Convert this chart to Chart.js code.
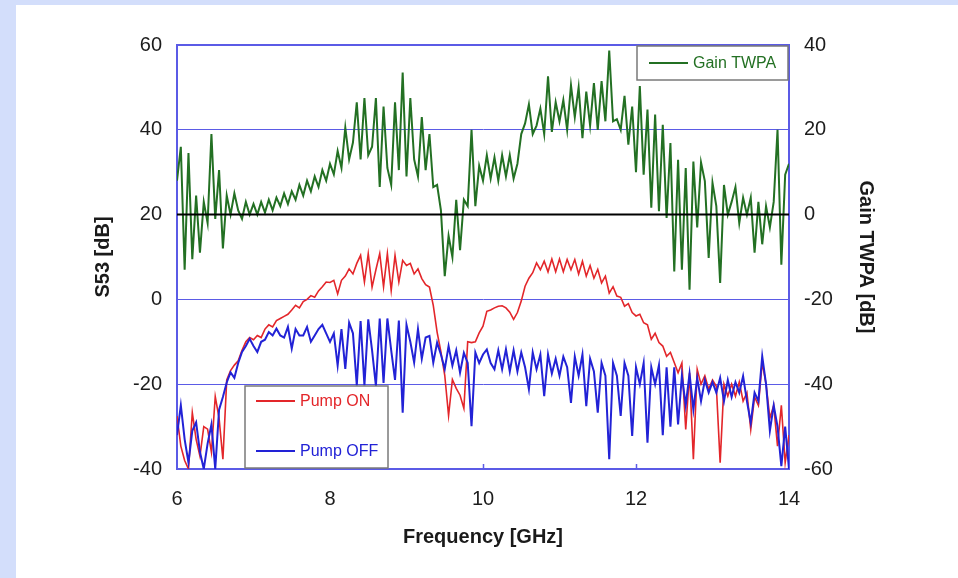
<!DOCTYPE html>
<html><head><meta charset="utf-8">
<script src="https://cdn.jsdelivr.net/npm/chart.js@4"></script>
<style>
html,body{margin:0;padding:0;width:958px;height:578px;overflow:hidden;background:#d3defb;}
#panel{position:absolute;left:16px;top:5px;right:0;bottom:0;background:#fff;}
#c{position:absolute;left:0;top:0;}
</style></head>
<body><div id="panel"></div><canvas id="c" width="958" height="578"></canvas>
<script>
const freqGHz = [
6.00,6.05,6.10,6.15,6.20,6.25,6.30,6.35,6.40,6.45,
6.50,6.55,6.60,6.65,6.70,6.75,6.80,6.85,6.90,6.95,
7.00,7.05,7.10,7.15,7.20,7.25,7.30,7.35,7.40,7.45,
7.50,7.55,7.60,7.65,7.70,7.75,7.80,7.85,7.90,7.95,
8.00,8.05,8.10,8.15,8.20,8.25,8.30,8.35,8.40,8.45,
8.50,8.55,8.60,8.65,8.70,8.75,8.80,8.85,8.90,8.95,
9.00,9.05,9.10,9.15,9.20,9.25,9.30,9.35,9.40,9.45,
9.50,9.55,9.60,9.65,9.70,9.75,9.80,9.85,9.90,9.95,
10.00,10.05,10.10,10.15,10.20,10.25,10.30,10.35,10.40,10.45,
10.50,10.55,10.60,10.65,10.70,10.75,10.80,10.85,10.90,10.95,
11.00,11.05,11.10,11.15,11.20,11.25,11.30,11.35,11.40,11.45,
11.50,11.55,11.60,11.65,11.70,11.75,11.80,11.85,11.90,11.95,
12.00,12.05,12.10,12.15,12.20,12.25,12.30,12.35,12.40,12.45,
12.50,12.55,12.60,12.65,12.70,12.75,12.80,12.85,12.90,12.95,
13.00,13.05,13.10,13.15,13.20,13.25,13.30,13.35,13.40,13.45,
13.50,13.55,13.60,13.65,13.70,13.75,13.80,13.85,13.90,13.95,
14.00];

// Gain TWPA [dB] (right axis)
const gainTWPA = [
8,16,-13,14.5,-10.5,4.5,-9,3,-2,19,
-1,10.5,-8,4.5,0,5,1,-1,3,0,
2.5,0,3,0.5,3.5,1,4,2,5,2.5,
5.5,3.5,7,4.5,8,5.5,9,6.5,10.5,8,
12,9.5,15,11,20.5,13,17,26.5,13,27.5,
14,16,27.5,6.5,25.5,11,7,26.5,10.5,33.5,
9,27.5,13,9,23,10.5,19,6.5,7,1,
-14.5,-5,-10,3.5,-8.4,3.5,2,20,2,11.5,
8,14,8.5,13.5,8,14,9,14,8.5,12,
19,21.5,26,19,21,25,19,32.6,19.5,26.5,
22,27,20,30.5,23,30,18,29,21,31,
20,31.5,22,38.7,22,22.5,20,28,16.5,25.5,
10,30.3,9.4,24.8,1.6,23.6,0.8,21.2,-0.8,16.9,
-13.4,12.9,-13,11,-17.7,12.5,-3,12.3,7.9,-10.2,
7.5,2,-16.1,7,0,3,6.5,-2,4,0,
4,-9,3,-7,2,-3,3,20,-11.8,9.4,
12];

// S53 Pump ON [dB] (left axis)
const pumpOn = [
-27.5,-34.6,-38,-40,-26.7,-33,-37,-30,-30.6,-36,
-22.9,-28,-37.7,-19,-16.8,-15.5,-14.5,-12,-10,-9,
-9.5,-8.5,-9,-7,-6,-6.5,-5,-4.5,-4,-3.5,
-2.5,-1.4,-2,-0.5,0,0.9,0.5,2,3,4.1,
4,4.5,1.3,4.5,5.5,7.2,6,8.5,10.4,4.1,
10.8,2.9,7,10.8,3,10.8,2.1,10.4,4.1,9.2,
8,8.5,6,7.2,4.9,3.5,2.9,-1.4,-7.7,-12.4,
-17.9,-27.4,-18.9,-21,-22.6,-25.7,-10,-10.2,-10,-7.9,
-6.3,-2.8,-2.5,-2,-1.6,-1.5,-2,-3,-4.7,-3.1,
-0.4,3.1,5,6.3,8.6,7,9,6.5,9.5,6.5,
9.5,6.5,9.4,7,9.4,6,9,5.5,8,5,
7.1,3.9,5.5,1.5,3,0.8,0.5,-1.6,-1,-3.1,
-3.9,-3.5,-5.5,-6,-9.4,-8,-10.2,-11,-13.4,-12.5,
-14.9,-17.3,-15,-30.7,-17.3,-37.7,-16.5,-20,-18,-21.2,
-19,-20.5,-38.5,-20,-22.8,-20,-22.8,-19.5,-24,-22,
-30.7,-23,-25,-14.9,-20,-28,-25,-34.6,-25,-38.5,
-32];

// S53 Pump OFF [dB] (left axis)
const pumpOff = [
-32,-25,-33,-38.5,-31,-29,-36,-40,-34,-29.5,
-40,-26,-23,-19.6,-17.2,-18.5,-15,-12.4,-11,-9.3,
-11,-12.4,-10,-9.5,-7.7,-8.5,-6.9,-8.5,-9,-6.5,
-11.6,-7,-8.5,-8.5,-6.5,-10,-8.5,-7,-6,-8,
-10,-8,-15.6,-7,-16.4,-5.5,-8,-20.3,-5.1,-20.3,
-4.7,-12,-20.4,-4.5,-19.7,-4.5,-12,-19,-5,-26.7,
-6,-10,-14.9,-7,-14,-9,-8.6,-14.9,-10.2,-13,
-16.4,-11,-15.6,-12,-17.3,-12.6,-15,-29.9,-12.5,-15,
-13,-11.8,-15,-16.5,-12,-16.5,-11.8,-17,-12,-17,
-12.5,-16,-21.2,-12.5,-16.5,-13,-22.8,-13,-17.5,-14,
-18,-13.5,-16,-24.4,-13.5,-18,-13,-25.2,-14,-17,
-26.7,-15,-18,-37.7,-15,-18,-27.5,-15,-18,-32.2,
-16,-20,-15,-33.8,-16,-20,-15.5,-32,-16,-30,
-16,-29.5,-18,-25,-17.5,-26,-18.5,-24,-19,-22,
-19.5,-22,-18.5,-24,-19,-23,-19.5,-22,-18.1,-24,
-29.1,-22,-24,-13.4,-20,-31,-25,-30,-39.3,-30,
-40];

const xTicks = [6, 8, 10, 12, 14];
const leftTicks = [-40, -20, 0, 20, 40, 60];
const rightTicks = [-60, -40, -20, 0, 20, 40];

const FONT = '"Liberation Sans", Arial, Helvetica, sans-serif';
const GRID_BLUE = '#5b5be6';
const TICK_COLOR = '#1c1c1c';
const toXY = arr => arr.map((v, i) => ({x: freqGHz[i], y: v}));

const zeroGainLine = {
  id: 'zeroGainLine',
  afterDatasetsDraw(chart) {
    const {ctx, chartArea} = chart;
    const y = chart.scales.yR.getPixelForValue(0);
    ctx.save();
    ctx.strokeStyle = '#000';
    ctx.lineWidth = 2;
    ctx.beginPath();
    ctx.moveTo(chartArea.left, y);
    ctx.lineTo(chartArea.right, y);
    ctx.stroke();
    ctx.restore();
  }
};

const innerTicks = {
  id: 'innerTicks',
  afterDatasetsDraw(chart) {
    const {ctx, chartArea} = chart;
    const xs = chart.scales.x;
    ctx.save();
    ctx.strokeStyle = GRID_BLUE;
    ctx.lineWidth = 1.5;
    xTicks.slice(1, -1).forEach(v => {
      const px = Math.round(xs.getPixelForValue(v)) + 0.5;
      ctx.beginPath();
      ctx.moveTo(px, chartArea.bottom);
      ctx.lineTo(px, chartArea.bottom - 5);
      ctx.stroke();
    });
    ctx.restore();
  }
};

const boxLegends = {
  id: 'boxLegends',
  afterDraw(chart) {
    const {ctx} = chart;
    const ds = chart.data.datasets;
    function box(x, y, w, h, items) {
      ctx.save();
      ctx.fillStyle = '#fff';
      ctx.fillRect(x, y, w, h);
      ctx.strokeStyle = '#7a7a7a';
      ctx.lineWidth = 1.5;
      ctx.strokeRect(x, y, w, h);
      ctx.font = '16px ' + FONT;
      ctx.textBaseline = 'middle';
      items.forEach(it => {
        const d = ds[it.i];
        ctx.strokeStyle = d.borderColor;
        ctx.lineWidth = 2;
        ctx.beginPath();
        ctx.moveTo(x + it.lx, it.y);
        ctx.lineTo(x + it.lx + 39, it.y);
        ctx.stroke();
        ctx.fillStyle = d.borderColor;
        ctx.fillText(d.label, x + it.lx + 44, it.y + 1);
      });
      ctx.restore();
    }
    box(637, 46, 151, 34, [{i: 0, lx: 12, y: 63}]);
    box(245, 386, 143, 82, [{i: 1, lx: 11, y: 401}, {i: 2, lx: 11, y: 451}]);
  }
};

new Chart(document.getElementById('c'), {
  type: 'line',
  data: {
    datasets: [
      {label: 'Gain TWPA', data: toXY(gainTWPA), yAxisID: 'yR', borderColor: '#237023', borderWidth: 2, order: 3},
      {label: 'Pump ON', data: toXY(pumpOn), yAxisID: 'y', borderColor: '#e3262a', borderWidth: 1.6, order: 2},
      {label: 'Pump OFF', data: toXY(pumpOff), yAxisID: 'y', borderColor: '#2222d6', borderWidth: 2, order: 1}
    ]
  },
  options: {
    responsive: false,
    animation: false,
    devicePixelRatio: 1,
    elements: {point: {radius: 0}, line: {tension: 0, fill: false}},
    layout: {padding: {left: 87, right: 76, top: 45, bottom: 25}},
    plugins: {legend: {display: false}, tooltip: {enabled: false}},
    scales: {
      x: {
        type: 'linear', min: 6, max: 14,
        afterFit: s => { s.height = 84; },
        afterBuildTicks: s => { s.ticks = xTicks.map(v => ({value: v})); },
        ticks: {padding: 18, color: TICK_COLOR, font: {family: FONT, size: 20}},
        grid: {drawOnChartArea: false, drawTicks: false},
        border: {color: GRID_BLUE, width: 2},
        title: {display: true, text: 'Frequency [GHz]', color: '#1a1a1a', font: {family: FONT, size: 20, weight: 'bold'}}
      },
      y: {
        position: 'left', min: -40, max: 60,
        afterFit: s => { s.width = 90; },
        afterBuildTicks: s => { s.ticks = leftTicks.map(v => ({value: v})); },
        ticks: {padding: 15, color: TICK_COLOR, font: {family: FONT, size: 20}},
        grid: {color: GRID_BLUE, lineWidth: c => (c.tick && c.tick.value === 60) ? 2 : 1, drawTicks: false},
        border: {color: GRID_BLUE, width: 2},
        title: {display: true, text: 'S53 [dB]', color: '#1a1a1a', font: {family: FONT, size: 20, weight: 'bold'}}
      },
      yR: {
        position: 'right', min: -60, max: 40,
        afterFit: s => { s.width = 93; },
        afterBuildTicks: s => { s.ticks = rightTicks.map(v => ({value: v})); },
        ticks: {padding: 15, color: TICK_COLOR, font: {family: FONT, size: 20}},
        grid: {drawOnChartArea: false, drawTicks: false},
        border: {color: GRID_BLUE, width: 2},
        title: {display: true, text: 'Gain TWPA [dB]', color: '#1a1a1a', font: {family: FONT, size: 20, weight: 'bold'}}
      }
    }
  },
  plugins: [zeroGainLine, innerTicks, boxLegends]
});
</script>
</body></html>
